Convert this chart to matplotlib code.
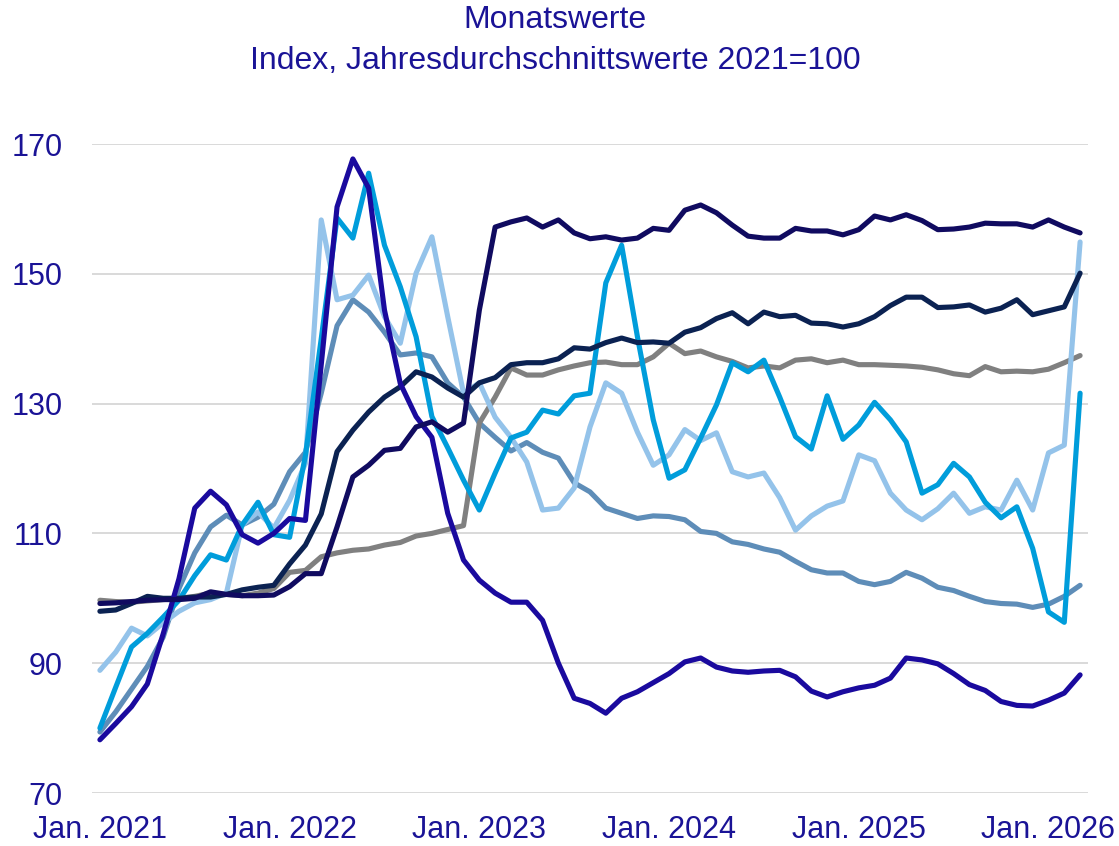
import matplotlib
matplotlib.use('Agg')
import matplotlib.pyplot as plt
import numpy as np

# monthly values, Jan. 2021 - Mar. 2026 (index, 2021 = 100)
serie_a = [78.2, 80.7, 83.3, 86.8, 94.5, 103.0, 113.9, 116.5, 114.4, 109.8,
           108.5, 110.0, 112.3, 112.0, 136.0, 160.3, 167.7, 163.2, 144.4, 133.1,
           128.0, 124.8, 113.1, 105.9, 102.8, 100.8, 99.4, 99.4, 96.6, 90.0,
           84.6, 83.8, 82.3, 84.6, 85.6, 87.0, 88.4, 90.2, 90.8, 89.4,
           88.8, 88.6, 88.8, 88.9, 87.9, 85.7, 84.8, 85.6, 86.2, 86.6,
           87.7, 90.8, 90.5, 89.9, 88.4, 86.7, 85.8, 84.1, 83.5, 83.4,
           84.3, 85.4, 88.2]
serie_b = [99.2, 99.3, 99.5, 99.7, 99.8, 99.8, 100.0, 101.0, 100.6, 100.4,
           100.4, 100.5, 101.8, 103.8, 103.8, 111.0, 118.7, 120.5, 122.8, 123.1,
           126.4, 127.2, 125.6, 127.0, 144.4, 157.2, 158.0, 158.6, 157.2, 158.3,
           156.3, 155.4, 155.7, 155.2, 155.5, 157.0, 156.7, 159.8, 160.6, 159.4,
           157.5, 155.8, 155.5, 155.5, 157.0, 156.6, 156.6, 156.0, 156.8, 158.9,
           158.3, 159.1, 158.2, 156.8, 156.9, 157.2, 157.8, 157.7, 157.7, 157.2,
           158.3, 157.2, 156.3]
serie_c = [98.0, 98.2, 99.2, 100.3, 100.0, 100.0, 100.2, 100.2, 100.6, 101.3,
           101.7, 102.0, 105.3, 108.2, 113.0, 122.6, 125.9, 128.7, 131.0, 132.6,
           134.9, 134.1, 132.4, 131.0, 133.2, 134.0, 136.0, 136.3, 136.3, 136.9,
           138.6, 138.4, 139.4, 140.1, 139.4, 139.5, 139.3, 141.0, 141.7, 143.1,
           144.0, 142.3, 144.1, 143.4, 143.6, 142.4, 142.3, 141.8, 142.3, 143.4,
           145.1, 146.4, 146.4, 144.8, 144.9, 145.2, 144.1, 144.7, 146.0, 143.7,
           144.3, 144.9, 150.1]
serie_d = [99.7, 99.5, 99.4, 99.6, 99.8, 100.0, 100.3, 100.8, 100.6, 100.4,
           100.8, 101.5, 104.0, 104.3, 106.4, 107.0, 107.4, 107.6, 108.2, 108.6,
           109.6, 110.0, 110.6, 111.2, 127.0, 131.0, 135.5, 134.4, 134.4, 135.2,
           135.8, 136.3, 136.4, 136.0, 136.0, 137.2, 139.3, 137.7, 138.1, 137.2,
           136.5, 135.5, 135.8, 135.5, 136.7, 136.9, 136.3, 136.7, 136.0, 136.0,
           135.9, 135.8, 135.6, 135.2, 134.6, 134.3, 135.7, 134.9, 135.0, 134.9,
           135.3, 136.3, 137.4]
serie_e = [80.0, 86.3, 92.5, 94.6, 97.1, 99.7, 103.5, 106.7, 105.9, 111.3,
           114.8, 109.8, 109.4, 122.0, 140.0, 158.6, 155.5, 165.5, 154.4, 148.0,
           140.3, 128.0, 123.2, 118.2, 113.6, 119.3, 124.7, 125.6, 129.0, 128.4,
           131.2, 131.6, 148.6, 154.4, 140.3, 127.5, 118.5, 119.8, 124.7, 129.8,
           136.3, 134.9, 136.7, 131.0, 124.9, 123.0, 131.2, 124.5, 126.7, 130.2,
           127.5, 124.1, 116.2, 117.5, 120.8, 118.7, 114.8, 112.4, 114.1, 107.7,
           97.9, 96.3, 131.6]
serie_f = [88.9, 91.7, 95.4, 94.2, 96.2, 98.0, 99.3, 99.8, 100.8, 111.3,
           113.3, 110.8, 115.1, 120.8, 158.3, 146.0, 146.7, 149.8, 143.4, 139.3,
           150.1, 155.7, 143.4, 131.6, 133.2, 127.9, 124.8, 121.0, 113.6, 113.9,
           117.0, 126.4, 133.2, 131.6, 125.6, 120.5, 122.1, 126.0, 124.3, 125.5,
           119.5, 118.7, 119.3, 115.5, 110.5, 112.7, 114.2, 115.0, 122.1, 121.2,
           116.2, 113.6, 112.1, 113.8, 116.2, 113.1, 114.1, 113.6, 118.2, 113.6,
           122.4, 123.6, 154.9]
serie_g = [79.4, 82.5, 86.0, 89.5, 94.0, 101.5, 107.0, 111.0, 112.8, 111.3,
           112.5, 114.5, 119.5, 122.5, 131.6, 142.0, 146.0, 144.1, 141.0, 137.5,
           137.8, 137.2, 133.2, 131.0, 127.0, 124.8, 122.7, 124.0, 122.5, 121.6,
           117.8, 116.4, 113.9, 113.1, 112.3, 112.7, 112.6, 112.1, 110.3, 110.0,
           108.7, 108.3, 107.6, 107.1, 105.7, 104.4, 103.9, 103.9, 102.6, 102.1,
           102.6, 104.0, 103.1, 101.7, 101.2, 100.3, 99.5, 99.2, 99.1, 98.6,
           99.1, 100.3, 102.0]

tick_pos = [0, 12, 24, 36, 48, 60]
tick_labels = ['Jan. 2021', 'Jan. 2022', 'Jan. 2023', 'Jan. 2024', 'Jan. 2025', 'Jan. 2026']
y_ticks = [70, 90, 110, 130, 150, 170]

textColor = '#1A1396'
plt.rcParams['font.family'] = ['Liberation Sans', 'DejaVu Sans']

fig = plt.figure(figsize=(11.19, 8.46), dpi=100, facecolor='white')
ax = fig.add_axes([92/1119, 53/846, 996/1119, 649/846])

x = np.arange(len(serie_a))
# drawing order: first drawn lies below
lines = [(serie_g, '#5E8DB8'), (serie_d, '#808080'), (serie_f, '#94C3EA'),
         (serie_e, '#009DDB'), (serie_c, '#0B2252'), (serie_a, '#1A0A9E'),
         (serie_b, '#100B60')]
for values, col in lines:
    ax.plot(x, values, color=col, lw=3.7, solid_joinstyle='round', solid_capstyle='round')

ax.set_xlim(-0.5, 62.5)
ax.set_ylim(70, 170)
ax.set_yticks(y_ticks)
ax.set_xticks(tick_pos)
ax.set_xticklabels(tick_labels)
ax.yaxis.grid(True, color='#D9D9D9', lw=1.4)
ax.set_axisbelow(True)
for s in ax.spines.values():
    s.set_visible(False)
ax.tick_params(axis='y', length=0, pad=21, labelsize=22, labelcolor=textColor)
ax.tick_params(axis='x', length=0, pad=16, labelsize=22, labelcolor=textColor)

fig.text(0.496, 1 - 20/846, 'Monatswerte', ha='center', va='center', fontsize=23, color=textColor)
fig.text(0.496, 1 - 61/846, 'Index, Jahresdurchschnittswerte 2021=100', ha='center', va='center',
         fontsize=23, color=textColor)

fig.savefig('out.png', dpi=100, facecolor='white')
